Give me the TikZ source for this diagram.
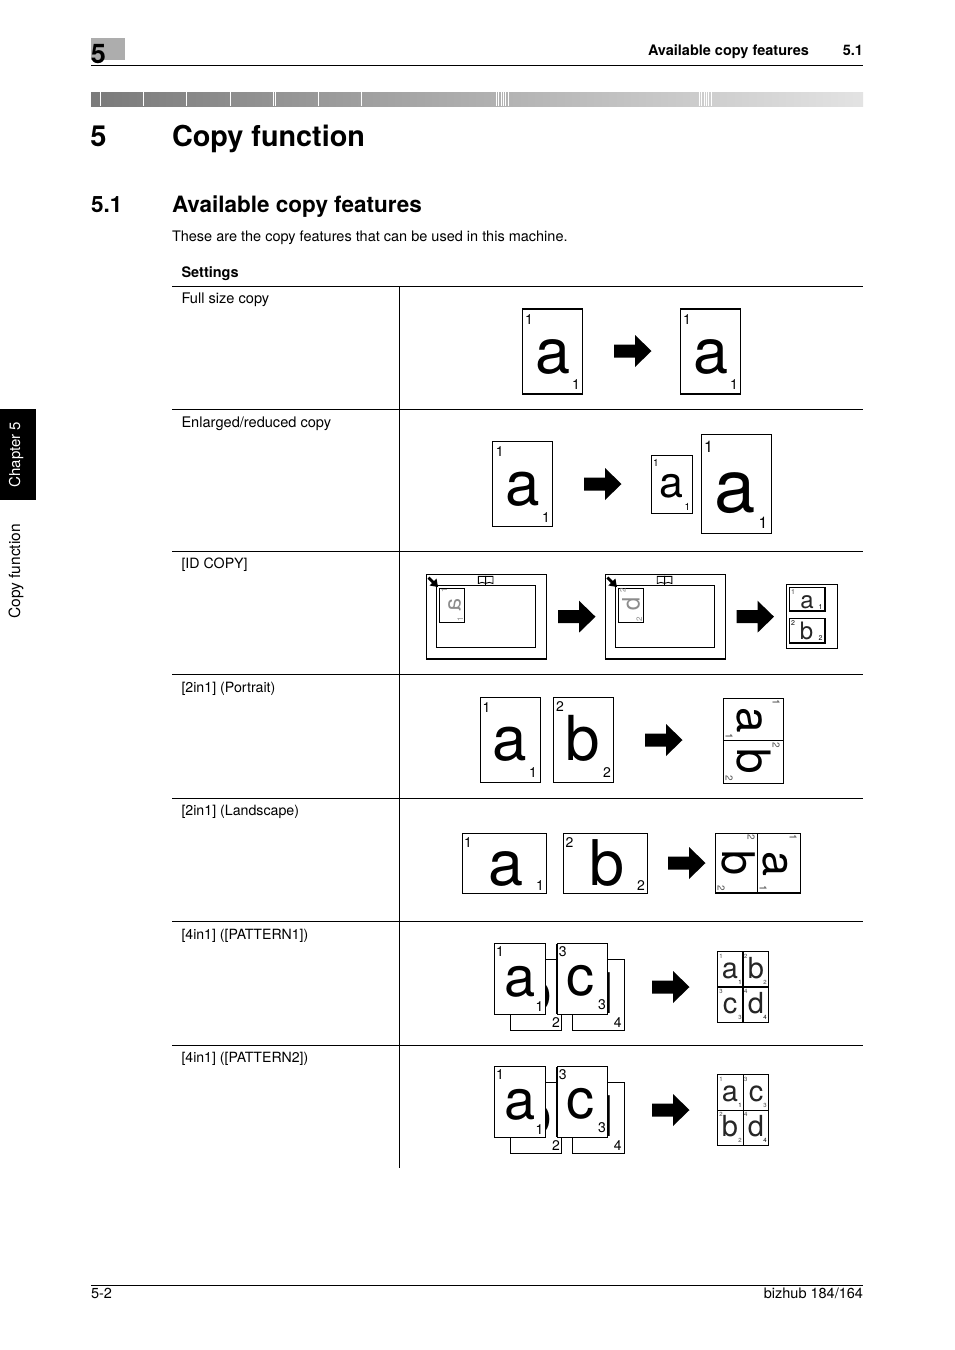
\documentclass[tikz,border=0pt]{standalone}
\usepackage{fontspec}
\setmainfont{TeX Gyre Heros}
\usepackage{graphicx}
\newcounter{lb}
\newcommand{\fs}[1]{\fontsize{#1}{#1}\selectfont}
% generic text: x, y(baseline), size, rotation, colour, text
\newcommand{\gl}[6]{\stepcounter{lb}\node[glyph,rotate=#4,text=#5] (t\thelb) at (#1,#2) {\fs{#3}#6};}
\newcommand{\tl}[4]{\stepcounter{lb}\node[leftlabel] (t\thelb) at (#1,#2) {\fs{#3}#4};}
\newcommand{\tr}[4]{\stepcounter{lb}\node[rightlabel] (t\thelb) at (#1,#2) {\fs{#3}#4};}
\newcommand{\sheet}[5][1]{\draw[sheetbox,line width=#1] (#2,#3) rectangle (#4,#5);}
\newcommand{\barrow}[2]{\fill[black] (#1,#2-6.5) -- ++(21,0) -- ++(0,-9.5) -- ++(16.5,16) -- ++(-16.5,16) -- ++(0,-9.5) -- ++(-21,0) -- cycle;}
\newcommand{\row}[1]{\draw[rulefine] (172,#1) -- (863,#1);}
% four-in-one: dy, line width, top-right letter, bottom-left letter, their numbers
\newcommand{\fourin}[6]{%
 \begin{scope}[yshift=-#1]
 \sheet{510}{959.3}{561.7}{1030}
 \gl{536}{1011}{56}{0}{black}{b}
 \gl{556}{1027.5}{14}{0}{black}{2}
 \sheet{494}{943.5}{545.5}{1014}
 \gl{520}{996}{56}{0}{black}{a}
 \gl{500}{956}{14}{0}{black}{1}
 \gl{539.5}{1011}{14}{0}{black}{1}
 \sheet{572.5}{959.3}{624}{1030}
 \draw[line width=1.4] (572.5,959.3) -- (572.5,1030);
 \gl{598}{1013}{56}{0}{black}{d}
 \gl{617.7}{1027.5}{14}{0}{black}{4}
 \sheet{557}{943.5}{607.5}{1014}
 \draw[line width=1.4] (557,943.5) -- (557,1014);
 \gl{580}{995}{56}{0}{black}{c}
 \gl{562.7}{956}{14}{0}{black}{3}
 \gl{602}{1009}{14}{0}{black}{3}
 \barrow{652}{987}
 \sheet[#2]{717.5}{951.5}{768.5}{1022.5}
 \draw[line width=#2] (743,951.5) -- (743,1022.5);
 \draw[line width=#2] (717.5,987) -- (768.5,987);
 \gl{730}{978}{29}{0}{black!85}{a}
 \gl{756}{978}{29}{0}{black!85}{#3}
 \gl{730}{1013}{29}{0}{black!85}{#4}
 \gl{756}{1013}{29}{0}{black!85}{d}
 \gl{721}{958}{6}{0}{black!75}{1}
 \gl{740}{984.5}{6}{0}{black}{1}
 \gl{745.7}{958}{6}{0}{black!75}{#5}
 \gl{765}{984.5}{6}{0}{black!75}{#5}
 \gl{721}{993}{6}{0}{black!75}{#6}
 \gl{740}{1019.5}{6}{0}{black!75}{#6}
 \gl{745.7}{993}{6}{0}{black!75}{4}
 \gl{765}{1019.5}{6}{0}{black}{4}
 \end{scope}}
\newcommand{\scanbed}[1]{%
 \begin{scope}[xshift=#1]
 \sheet[1]{426.3}{574.5}{546.3}{659}
 \draw[line width=1.8] (426,659) -- (546.5,659) -- (546.5,574);
 \sheet{436.3}{585.3}{535.7}{647}
 \sheet{439.3}{588.5}{464.5}{622.5}
 \draw[line width=0.9,black,fill=white] (485.7,583.3) .. controls (483,581.8) and (481,582.3) .. (478.3,583.5) -- (478.3,576.3) -- (485.7,576.3) -- cycle;
 \draw[line width=0.9,black,fill=white] (485.7,583.3) .. controls (488.4,581.8) and (490.4,582.3) .. (493,583.5) -- (493,576.3) -- (485.7,576.3) -- cycle;
 \draw[line width=0.9] (485.7,576.3) -- (485.7,584.6);
 \fill[black] (427.5,578.5) -- (429.5,576.5) -- (434,581) -- (436.5,578.5) -- (438,587) -- (429.5,585.5) -- (432,583) -- cycle;
 \end{scope}}
\tikzset{
 x=1pt,y=-1pt,
 glyph/.style={inner sep=0pt,outer sep=0pt,anchor=base},
 leftlabel/.style={inner sep=0pt,outer sep=0pt,anchor=base west},
 rightlabel/.style={inner sep=0pt,outer sep=0pt,anchor=base east},
 sheetbox/.style={draw=black,fill=white},
 rulefine/.style={line width=0.9,draw=black}
}
\begin{document}
\begin{tikzpicture}
\useasboundingbox (0,0) rectangle (954,1350);
\fill[white] (0,0) rectangle (954,1350);
% page head
\fill[black!32] (91,38) rectangle (125,60);
\gl{98.5}{63}{27}{0}{black}{\bfseries 5}
\draw[line width=0.9] (91,65.5) -- (863,65.5);
\tl{648}{55}{14.5}{\bfseries Available copy features}
\tr{863}{55}{14.5}{\bfseries 5.1}
% gradient band
\shade[left color=black!52,right color=black!11] (91,92) rectangle (863,106);
\foreach \sx in {100,143.5,186.5,230,273.6,275,318.4,361.6,496.5,498.8,501.1,503.4,505.7,508.5,699.5,701.8,704.1,706.4,708.7,711.5}
  \draw[white,line width=0.9] (\sx,92) -- (\sx,106);
% headings
\gl{98.5}{146}{29}{0}{black}{\bfseries 5}
\tl{172}{146}{28.8}{\bfseries Copy function}
\tl{91}{212}{22.5}{\bfseries 5.1}
\tl{172}{212}{22.5}{\bfseries Available copy features}
\tl{172}{241}{14.5}{These are the copy features that can be used in this machine.}
\tl{181.5}{277}{14.5}{\bfseries Settings}
% side tab
\fill[black] (0,409) rectangle (36,500);
\gl{20}{454.5}{15}{90}{white}{Chapter 5}
\gl{20}{571.5}{15.5}{90}{black}{Copy function}
% table
\draw[rulefine] (172,286.5) -- (863,286.5);
\row{409.5}\row{551.5}\row{674.5}\row{798.5}\row{921.5}\row{1045.5}
\draw[rulefine] (399.5,286.5) -- (399.5,1168);
\tl{181.5}{303}{14.6}{Full size copy}
\tl{181.5}{427}{14.6}{Enlarged/reduced copy}
\tl{181.5}{568}{14.2}{[ID COPY]}
\tl{181.5}{692}{14.2}{[2in1] (Portrait)}
\tl{181.5}{815}{14.2}{[2in1] (Landscape)}
\tl{181.5}{939}{14.1}{[4in1] ([PATTERN1])}
\tl{181.5}{1062.5}{14.1}{[4in1] ([PATTERN2])}
% full size
\sheet[1.1]{522.3}{309}{582.3}{394}
\gl{553}{373}{63}{0}{black}{a}
\gl{529}{324}{14}{0}{black}{1}
\gl{576}{389.5}{14}{0}{black}{1}
\barrow{614}{351}
\sheet[1.1]{680.3}{309}{740.5}{394}
\gl{710.7}{373}{63}{0}{black}{a}
\gl{687}{324}{14}{0}{black}{1}
\gl{734}{389.5}{14}{0}{black}{1}
% enlarged
\sheet[1.3]{492.5}{441.5}{552.5}{526.5}
\gl{523}{505.5}{62}{0}{black}{a}
\gl{499.7}{456.5}{14}{0}{black}{1}
\gl{546}{522}{14}{0}{black}{1}
\barrow{584}{484}
\sheet{651.7}{455}{692.7}{513}
\gl{671.7}{497}{43}{0}{black}{a}
\gl{656}{466}{10}{0}{black}{1}
\gl{687.5}{510}{10}{0}{black}{1}
\sheet{701.3}{434.5}{771.5}{533}
\gl{735.5}{512}{74}{0}{black}{a}
\gl{708.5}{452}{16}{0}{black}{1}
\gl{763}{528}{16}{0}{black}{1}
% ID copy
\scanbed{0pt}
\gl{460.7}{604.5}{23}{90}{black!45}{\reflectbox{a}}
\gl{447}{590.7}{8}{90}{black!45}{1}
\gl{463}{619}{8}{90}{black!45}{1}
\barrow{558}{616.7}
\scanbed{178.9pt}
\gl{639.7}{604.5}{24}{90}{black!45}{\reflectbox{b}}
\gl{625.7}{590.7}{8}{90}{black!45}{2}
\gl{642}{619.3}{8}{90}{black!45}{2}
\barrow{736.5}{616.7}
\sheet{786}{584}{837}{648}
\sheet[1.2]{789.5}{587.5}{825}{611}
\sheet[1.2]{789.5}{618.5}{825}{643}
\gl{807}{608}{24}{0}{black!85}{a}
\gl{806.5}{639}{24}{0}{black!85}{b}
\gl{793}{594}{7}{0}{black!70}{1}
\gl{820.5}{609.5}{7}{0}{black}{1}
\gl{793}{625}{7}{0}{black}{2}
\gl{820.5}{640.5}{7}{0}{black}{2}
% 2in1 portrait
\sheet[1.1]{480.5}{697.5}{540.5}{782.5}
\gl{510}{760.5}{62}{0}{black}{a}
\gl{486.5}{712}{14}{0}{black}{1}
\gl{533}{777}{14}{0}{black}{1}
\sheet[1.1]{553.5}{697.5}{613.5}{782.5}
\gl{583}{760.5}{62}{0}{black}{b}
\gl{560}{711}{14}{0}{black}{2}
\gl{607}{777}{14}{0}{black}{2}
\barrow{645}{740}
\sheet[1.2]{723.5}{698.5}{783.5}{783.5}
\draw[line width=0.9] (723.5,740) -- (783.5,740);
\gl{737}{720}{46}{-90}{black}{a}
\gl{737}{761}{46}{-90}{black}{b}
\gl{772.5}{702.7}{10}{-90}{black!75}{1}
\gl{725.5}{736}{10}{-90}{black!75}{1}
\gl{772.5}{745}{10}{-90}{black!65}{2}
\gl{725.5}{778}{10}{-90}{black!65}{2}
% 2in1 landscape
\sheet[0.9]{462.5}{833.5}{546.5}{893}
\gl{506}{885}{63}{0}{black}{a}
\gl{468}{847}{14}{0}{black}{1}
\gl{540}{890}{14}{0}{black}{1}
\sheet[0.9]{563.5}{833.5}{647.5}{893}
\gl{606.7}{885}{63}{0}{black}{b}
\gl{569.5}{847}{14}{0}{black}{2}
\gl{641}{890}{14}{0}{black}{2}
\barrow{668}{863}
\sheet[1.2]{715.5}{833.5}{800.5}{893}
\draw[line width=0.9] (757,833.5) -- (757,893);
\gl{722}{862.5}{45}{-90}{black}{b}
\gl{763.5}{864}{45}{-90}{black}{a}
\gl{747.5}{837}{10}{-90}{black!65}{2}
\gl{789.5}{837}{10}{-90}{black!75}{1}
\gl{717.5}{888}{10}{-90}{black!65}{2}
\gl{759.5}{888}{10}{-90}{black!75}{1}
% 4in1
\fourin{0pt}{1.3}{b}{c}{2}{3}
\fourin{123pt}{0.9}{c}{b}{3}{2}
% foot
\draw[line width=0.9] (91,1285) -- (863,1285);
\tl{91}{1298.5}{14.5}{5-2}
\tr{863}{1298.5}{14.5}{bizhub 184/164}
\end{tikzpicture}
\end{document}
